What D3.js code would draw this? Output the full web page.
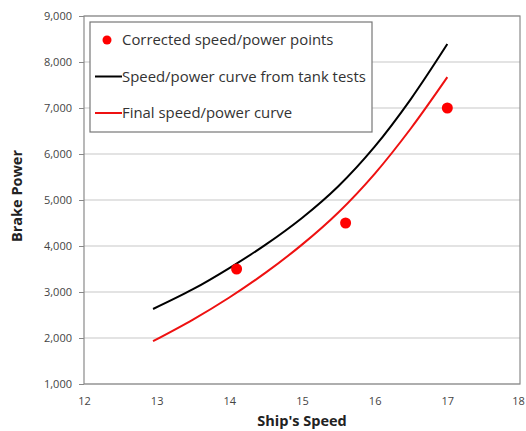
<!DOCTYPE html>
<html>
<head>
<meta charset="utf-8">
<script src="https://cdn.jsdelivr.net/npm/d3@7"></script>
<style>
  body { margin: 0; background: #fff; }
  text { font-family: "Open Sans", "DejaVu Sans", sans-serif; }
</style>
</head>
<body>
<div id="chart"></div>
<script>
// data
let pointSpeed = [14.1, 15.6, 17];
let pointPower = [3500, 4500, 7000];

let tankSpeed = [12.95, 13.5, 14, 14.5, 15, 15.5, 16, 16.5, 17];
let tankPower = [2630, 3060, 3520, 4030, 4610, 5300, 6160, 7200, 8390];

let finalSpeed = [12.95, 13.5, 14, 14.5, 15, 15.5, 16, 16.5, 17];
let finalPower = [1930, 2400, 2880, 3420, 4030, 4730, 5570, 6560, 7670];

let xTicks = [12, 13, 14, 15, 16, 17, 18];
let yTicks = [1000, 2000, 3000, 4000, 5000, 6000, 7000, 8000, 9000];

let legendLabels = ["Corrected speed/power points", "Speed/power curve from tank tests", "Final speed/power curve"];

function makeChart() {
    let svgWidth = 526;
    let svgHeight = 431;
    let margin = { top: 16, right: 6, bottom: 47, left: 84 };

    let w = svgWidth - margin.left - margin.right;
    let h = svgHeight - margin.top - margin.bottom;

    let svg = d3.select("#chart")
        .append("svg")
        .attr("width", svgWidth)
        .attr("height", svgHeight);
    let chartGroup = svg.append("g")
        .attr("transform", `translate(${margin.left}, ${margin.top})`);

    let x = d3.scaleLinear().domain([12, 18]).range([0, w]);
    let y = d3.scaleLinear().domain([1000, 9000]).range([h, 0]);

    //gridlines
    chartGroup.append("g")
        .selectAll("line")
        .data(yTicks)
        .enter()
        .append("line")
        .attr("x1", 0)
        .attr("x2", w)
        .attr("y1", d => y(d))
        .attr("y2", d => y(d))
        .attr("stroke", "#c8c8c8")
        .attr("stroke-width", 1.2);

    //axes
    let yAxis = chartGroup.append("g")
        .call(d3.axisLeft(y).tickValues(yTicks).tickFormat(d3.format(",")).tickSize(5).tickSizeOuter(0));
    yAxis.select(".domain").remove();
    yAxis.selectAll("line").attr("stroke", "#888");
    yAxis.selectAll("text").attr("font-size", "11px").attr("fill", "#444").attr("dx", "-4");

    let xAxis = chartGroup.append("g")
        .attr("transform", `translate(0, ${h})`)
        .call(d3.axisBottom(x).tickValues(xTicks).tickFormat(d3.format("d")).tickSize(0));
    xAxis.select(".domain").remove();
    xAxis.selectAll("text").attr("font-size", "11px").attr("fill", "#444").attr("dy", "1.6em");
    xAxis.selectAll("text").filter(d => d === 18).attr("dx", "-2");

    //plot border
    chartGroup.append("rect")
        .attr("width", w)
        .attr("height", h)
        .attr("fill", "none")
        .attr("stroke", "#8a8a8a")
        .attr("stroke-width", 1.2);

    let line = d3.line()
        .x(d => x(d[0]))
        .y(d => y(d[1]))
        .curve(d3.curveCatmullRom);

    chartGroup.append("path")
        .datum(tankSpeed.map((s, i) => [s, tankPower[i]]))
        .attr("d", line)
        .attr("fill", "none")
        .attr("stroke", "black")
        .attr("stroke-width", 2);

    chartGroup.append("path")
        .datum(finalSpeed.map((s, i) => [s, finalPower[i]]))
        .attr("d", line)
        .attr("fill", "none")
        .attr("stroke", "#ee1111")
        .attr("stroke-width", 2);

    chartGroup.selectAll("circle.pt")
        .data(pointSpeed.map((s, i) => [s, pointPower[i]]))
        .enter()
        .append("circle")
        .attr("class", "pt")
        .attr("cx", d => x(d[0]))
        .attr("cy", d => y(d[1]))
        .attr("r", 5.5)
        .attr("fill", "#ff0000");

    //legend
    let legend = svg.append("g").attr("transform", "translate(90, 22)");
    legend.append("rect")
        .attr("width", 282)
        .attr("height", 110)
        .attr("fill", "white")
        .attr("stroke", "#777")
        .attr("stroke-width", 1.2);

    legendLabels.forEach(function(label, i) {
        let ly = 18 + i * 36.5;
        if (i === 0) {
            legend.append("circle").attr("cx", 17).attr("cy", ly).attr("r", 4.5).attr("fill", "#ff0000");
        } else {
            legend.append("line")
                .attr("x1", 5).attr("x2", 32)
                .attr("y1", ly).attr("y2", ly)
                .attr("stroke", i === 1 ? "black" : "#ee1111")
                .attr("stroke-width", 2);
        }
        legend.append("text")
            .attr("x", 32)
            .attr("y", ly)
            .attr("dy", "0.35em")
            .attr("font-size", "14.9px")
            .attr("fill", "#333")
            .text(label);
    });

    //y axis label
    svg.append("text")
        .attr("transform", `translate(22, 196) rotate(-90)`)
        .attr("text-anchor", "middle")
        .attr("font-size", "14.5px")
        .attr("font-weight", "bold")
        .attr("fill", "#222")
        .text("Brake Power");

    //x axis label
    svg.append("text")
        .attr("x", 302)
        .attr("y", 426)
        .attr("text-anchor", "middle")
        .attr("font-size", "14.5px")
        .attr("font-weight", "bold")
        .attr("fill", "#222")
        .text("Ship's Speed");
}

makeChart();
</script>
</body>
</html>
